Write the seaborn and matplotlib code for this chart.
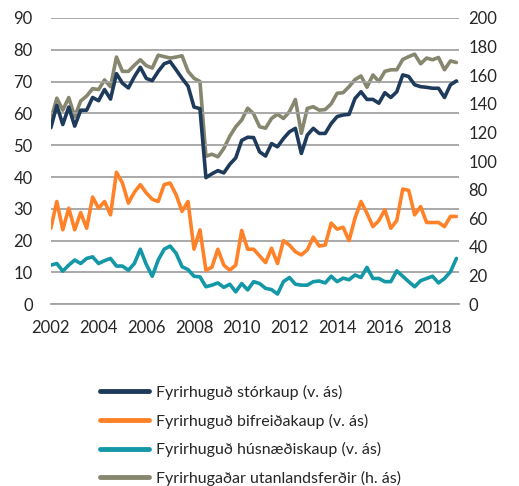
import numpy as np
import pandas as pd
import matplotlib
matplotlib.use('Agg')
import matplotlib.pyplot as plt
import seaborn as sns

# Ársfjórðungsleg gögn 2002 Q1 - 2019 Q1
ar = 2002 + np.arange(69) * 0.25

storkaup = [55.5, 62.5, 56.5, 62, 56, 61, 61, 65, 64, 67.5, 64.5, 72.5, 69.5, 68, 71.5, 74.5, 71,
            70.3, 73.2, 75.6, 76.3, 73.7, 71, 68.6, 62, 61.5, 39.8, 41, 42, 41.3, 44, 46, 51.5, 52.5,
            52.4, 47.9, 46.6, 50.5, 49.5, 52.1, 54.2, 55.3, 47.4, 53.2, 55.3, 53.7, 53.7, 56.8, 59, 59.5, 59.7,
            64.7, 66.8, 64.4, 64.4, 63.2, 66.5, 65, 66.8, 72.1, 71.6, 69, 68.4, 68.2, 67.9, 67.9, 65, 69, 70.2]

bifreidakaup = [23.9, 32.3, 23.4, 30.2, 23.4, 28.8, 23.9, 33.7, 30.2, 32.3, 28.1, 41.5, 38.1, 31.8, 35.2, 37.6, 35,
                33, 32.3, 37.6, 38.1, 34.4, 29.2, 32.3, 17.3, 23.4, 10.7, 11.6, 17.3, 12.3, 10.7, 12.3, 23.2, 17.3,
                17.3, 15.2, 13.1, 17.6, 12.8, 20, 18.6, 16.5, 15.5, 17.1, 21.1, 18.3, 18.6, 25.5, 23.6, 24.2, 20,
                27.1, 32.3, 28.6, 24.4, 26.3, 29.7, 23.9, 26.3, 36.2, 35.8, 28.1, 30.7, 25.7, 25.7, 25.7, 24.4, 27.6, 27.6]

husnaediskaup = [12.3, 12.8, 10.4, 12.3, 13.9, 12.8, 14.4, 14.9, 12.8, 13.7, 14.4, 12, 12, 10.7, 12.8, 17.3, 12.5,
                 8.8, 13.9, 17.3, 18.3, 16, 11.8, 10.9, 8.8, 8.6, 5.5, 6, 6.7, 5.3, 6.3, 3.9, 6.5, 4.5,
                 7.1, 6.5, 5, 4.6, 3.2, 7.1, 8.4, 6.3, 6, 6, 7.1, 7.3, 6.7, 8.8, 7.1, 8.2, 7.7,
                 9.2, 8.4, 11.6, 8.1, 8.1, 7.1, 7.1, 10.5, 8.8, 7.1, 5.5, 7.4, 8.1, 8.8, 6.7, 8.1, 10.2, 14.4]

utanlandsferdir = [129, 144, 135.6, 144.4, 131, 142, 145.5, 150.6, 150, 156.7, 152, 172.7, 162.7, 162.7, 167, 170.8, 166.7,
                   165, 174, 173, 172, 172.7, 173.6, 162.7, 157.9, 155.6, 103.4, 104.8, 103, 108.8, 117.4, 124, 128.7, 137,
                   133, 124, 123, 129.8, 132.8, 129.8, 134.5, 143, 119.4, 136.8, 138, 135.6, 136, 140, 147.4, 147.8, 152,
                   157, 159.5, 151.6, 160.2, 155.6, 162.7, 163.8, 163.8, 171, 173, 174.7, 168, 172, 170.8, 172.4, 163.8, 170, 168.9]

nofn = ['Fyrirhuguð stórkaup (v. ás)', 'Fyrirhuguð bifreiðakaup (v. ás)',
        'Fyrirhuguð húsnæðiskaup (v. ás)', 'Fyrirhugaðar utanlandsferðir (h. ás)']
litir = ['#1F3B5B', '#FF8229', '#1497A6', '#87866F']

df = pd.DataFrame({'ar': ar, 'storkaup': storkaup, 'bifreidakaup': bifreidakaup,
                   'husnaediskaup': husnaediskaup, 'utanlandsferdir': utanlandsferdir})

sns.set_style('white')
plt.rcParams['font.family'] = ['Lato', 'DejaVu Sans']

fig = plt.figure(figsize=(5.19, 4.86), dpi=100)
ax = fig.add_axes([0.098, 0.374, 0.786, 0.589])
ax2 = ax.twinx()

lw = 2.6
for col, nafn, litur in zip(['storkaup', 'bifreidakaup', 'husnaediskaup'], nofn[:3], litir[:3]):
    sns.lineplot(data=df, x='ar', y=col, ax=ax, color=litur, linewidth=lw, label=nafn)
sns.lineplot(data=df, x='ar', y='utanlandsferdir', ax=ax2, color=litir[3], linewidth=lw, label=nofn[3])

ax.set_xlim(2002, 2019.1)
ax.set_ylim(0, 90)
ax2.set_ylim(0, 200)
ax.set_yticks(range(0, 91, 10))
ax2.set_yticks(range(0, 201, 20))
ax.set_xticks(range(2002, 2019, 2))
ax.set_xlabel('')
ax.set_ylabel('')
ax2.set_ylabel('')

ax.grid(True, axis='y', color='#a3a3a3', linewidth=1.3)
ax.set_axisbelow(True)
ax2.set_zorder(ax.get_zorder() - 1)
ax.patch.set_visible(False)

for a in (ax, ax2):
    for s in ['top', 'left', 'right', 'bottom']:
        a.spines[s].set_visible(False)
ax.spines['bottom'].set_visible(True)
ax.spines['bottom'].set_color('#a3a3a3')
ax.spines['bottom'].set_linewidth(1.3)

ax.tick_params(axis='x', direction='out', length=4, width=1.2, color='#a3a3a3', pad=7, labelsize=12)
ax.tick_params(axis='y', length=0, pad=13, labelsize=12)
ax2.tick_params(axis='y', length=0, pad=7, labelsize=12)

handles, labels = [], []
for a in (ax, ax2):
    h, l = a.get_legend_handles_labels()
    handles += h
    labels += l
    a.get_legend().remove()

fig.legend(handles, labels, loc='upper left', bbox_to_anchor=(0.192, 0.208), frameon=False,
           fontsize=11.5, handlelength=3.1, handletextpad=0.45, labelspacing=0.85,
           borderpad=0, borderaxespad=0)
for lina in fig.legends[0].get_lines():
    lina.set_linewidth(3.5)

fig.savefig('out.png', dpi=100)
